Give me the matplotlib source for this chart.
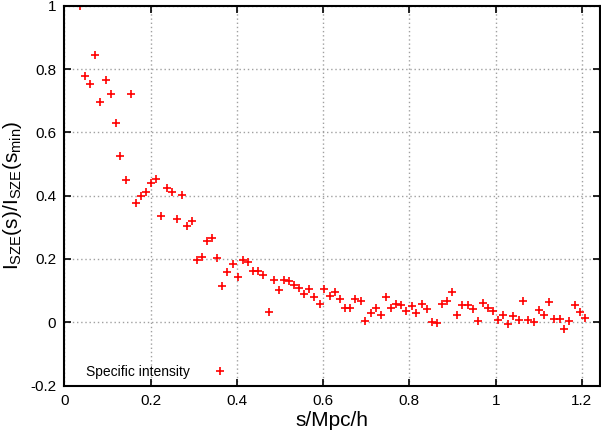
import matplotlib
matplotlib.use("Agg")
import matplotlib.pyplot as plt
from matplotlib.ticker import FuncFormatter

plt.rcParams['font.family'] = ['Liberation Sans', 'DejaVu Sans']
plt.rcParams['mathtext.fontset'] = 'custom'
plt.rcParams['mathtext.rm'] = 'Liberation Sans'
plt.rcParams['mathtext.it'] = 'Liberation Sans'

s = [0.036, 0.048, 0.059, 0.071, 0.083, 0.096, 0.107, 0.119, 0.130, 0.142,
     0.154, 0.166, 0.178, 0.189, 0.201, 0.213, 0.225, 0.237, 0.249, 0.260,
     0.272, 0.284, 0.296, 0.308, 0.319, 0.331, 0.343, 0.354, 0.366, 0.378,
     0.390, 0.402, 0.413, 0.425, 0.438, 0.449, 0.461, 0.474, 0.485, 0.497,
     0.509, 0.521, 0.532, 0.544, 0.556, 0.568, 0.579, 0.592, 0.603, 0.616,
     0.627, 0.639, 0.650, 0.662, 0.674, 0.687, 0.697, 0.710, 0.722, 0.733,
     0.745, 0.757, 0.769, 0.781, 0.792, 0.805, 0.816, 0.829, 0.840, 0.852,
     0.864, 0.876, 0.887, 0.899, 0.911, 0.923, 0.935, 0.947, 0.958, 0.970,
     0.982, 0.994, 1.006, 1.017, 1.029, 1.041, 1.053, 1.064, 1.076, 1.088,
     1.100, 1.112, 1.124, 1.135, 1.148, 1.159, 1.171, 1.183, 1.195, 1.207]
intensity = [1.000, 0.777, 0.754, 0.843, 0.697, 0.765, 0.721, 0.628, 0.525, 0.448,
             0.721, 0.377, 0.399, 0.410, 0.439, 0.452, 0.335, 0.425, 0.412, 0.326,
             0.403, 0.304, 0.321, 0.195, 0.207, 0.258, 0.266, 0.203, 0.115, 0.158,
             0.183, 0.142, 0.195, 0.190, 0.162, 0.162, 0.148, 0.031, 0.132, 0.102,
             0.133, 0.130, 0.119, 0.108, 0.090, 0.106, 0.081, 0.058, 0.104, 0.082,
             0.096, 0.074, 0.046, 0.046, 0.072, 0.066, 0.005, 0.030, 0.044, 0.024,
             0.079, 0.046, 0.057, 0.055, 0.035, 0.050, 0.028, 0.058, 0.042, 0.002,
             -0.001, 0.057, 0.068, 0.095, 0.023, 0.055, 0.055, 0.042, 0.005, 0.060,
             0.044, 0.034, 0.007, 0.022, -0.005, 0.019, 0.007, 0.066, 0.007, 0.000,
             0.040, 0.023, 0.064, 0.009, 0.009, -0.021, 0.005, 0.054, 0.032, 0.014]

xticks = [0, 0.2, 0.4, 0.6, 0.8, 1.0, 1.2]
yticks = [-0.2, 0, 0.2, 0.4, 0.6, 0.8, 1.0]

fig = plt.figure(figsize=(6.01, 4.32), dpi=100)
ax = fig.add_axes([0.1072, 0.1076, 0.8905, 0.8792])

ax.plot(s, intensity, linestyle='none', marker='+', color='#ff0000',
        markersize=5.5, markeredgewidth=1.2, label='Specific intensity')

ax.set_xlim(0, 1.241)
ax.set_ylim(-0.2, 1.0)
ax.set_xticks(xticks)
ax.set_yticks(yticks)
fmt = FuncFormatter(lambda v, p: ('%g' % round(v, 3)).replace('\u2212', '-'))
ax.xaxis.set_major_formatter(fmt)
ax.yaxis.set_major_formatter(fmt)
ax.grid(True, color='#a0a0a0', linestyle=(0, (1, 2)), linewidth=1.0)
ax.tick_params(direction='in', length=5, width=1.2, labelsize=11, top=True,
               right=True, pad=6)
for sp in ax.spines.values():
    sp.set_linewidth(1.5)
    sp.set_color('black')

ax.set_xlabel('s/Mpc/h', fontsize=15, labelpad=2)
ax.set_ylabel(r'I$_{\rm SZE}$(s)/I$_{\rm SZE}$(s$_{\rm min}$)', fontsize=15,
              labelpad=4)

leg = ax.legend(loc='lower left', bbox_to_anchor=(0.02, -0.012), frameon=False,
                markerfirst=False, fontsize=10, handlelength=1.5,
                handletextpad=1.4, borderaxespad=0.4)

fig.savefig('out.png', dpi=100)
